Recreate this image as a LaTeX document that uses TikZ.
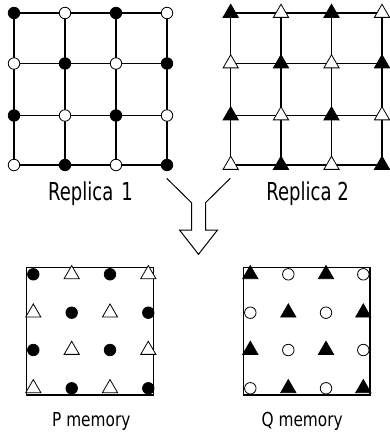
\documentclass[tikz,border=0pt]{standalone}
\usepackage{fontspec}
\usetikzlibrary{shapes.geometric}
\newfontfamily\bigfont{DejaVu Sans}[FakeStretch=0.73]
\newfontfamily\smallfont{DejaVu Sans}[FakeStretch=0.8]
\tikzset{
  gridline/.style={line width=1.3pt},
  mk/.style={draw=black, line width=0.8pt, inner sep=0pt},
  fc/.style={mk, circle, fill=black, minimum size=11.5pt},
  oc/.style={mk, circle, fill=white, minimum size=11.5pt},
  ft/.style={mk, regular polygon, regular polygon sides=3, fill=black, minimum size=17.5pt},
  ot/.style={mk, regular polygon, regular polygon sides=3, fill=white, minimum size=17.5pt},
  membox/.style={draw, line width=1.2pt, inner sep=0pt, minimum width=126.6pt, minimum height=127.3pt},
  biglabel/.style={font=\bigfont\fontsize{24.7}{24.7}\selectfont, inner sep=0pt, anchor=base},
  smalllabel/.style={font=\smallfont\fontsize{19.2}{19.2}\selectfont, inner sep=0pt, anchor=base},
  arrowline/.style={line width=1pt, line join=miter},
}
\begin{document}
\begin{tikzpicture}[x=1pt,y=-1pt]
\useasboundingbox (0,0) rectangle (389,433);
% grid coordinates
\foreach \i/\y in {1/13,2/63.5,3/115.5,4/165}{
  \foreach \j/\x in {1/14,2/65,3/116,4/167}{
    \coordinate (a-\i-\j) at (\x,\y);
  }
  \foreach \j/\x in {1/230.7,2/281,3/331.5,4/382}{
    \coordinate (b-\i-\j) at (\x,\y);
  }
}
% grid lines
\foreach \k in {1,...,4}{
  \draw[gridline] (a-\k-1) -- (a-\k-4);
  \draw[gridline] (a-1-\k) -- (a-4-\k);
  \draw[gridline] (b-\k-1) -- (b-\k-4);
  \draw[gridline] (b-1-\k) -- (b-4-\k);
}
% markers on grids
\foreach \i in {1,...,4}{
  \foreach \j in {1,...,4}{
    \pgfmathtruncatemacro\pp{mod(\i+\j,2)}
    \ifnum\pp=0
      \node[fc] (ma-\i-\j) at (a-\i-\j) {};
      \node[ft] (mb-\i-\j) at (b-\i-\j) {};
    \else
      \node[oc] (ma-\i-\j) at (a-\i-\j) {};
      \node[ot] (mb-\i-\j) at (b-\i-\j) {};
    \fi
  }
}
\node[biglabel] (lab1) at (90.5,200) {Replica\hspace{0.1em} 1};
\node[biglabel] (lab2) at (307.5,200) {Replica 2};
% big arrow
\draw[arrowline] (166.7,178.3) -- (191.5,202.7) -- (191.5,230) -- (179.5,230)
  -- (198.5,254.3) -- (217.5,230) -- (205.5,230) -- (205.5,202.7) -- (230.3,178.3);
% memory boxes
\node[membox] (pbox) at (90,331.35) {};
\node[membox] (qbox) at (306.65,331.35) {};
\foreach \i/\y in {1/274.3,2/312.7,3/350,4/388.3}{
  \foreach \j/\x in {1/33.3,2/71.7,3/110,4/148.3}{
    \coordinate (p-\i-\j) at (\x,\y);
  }
  \foreach \j/\x in {1/250.3,2/288.3,3/326,4/363.3}{
    \coordinate (q-\i-\j) at (\x,\y);
  }
}
\foreach \i in {1,...,4}{
  \foreach \j in {1,...,4}{
    \pgfmathtruncatemacro\pp{mod(\i+\j,2)}
    \ifnum\pp=0
      \node[fc] (mp-\i-\j) at (p-\i-\j) {};
      \node[ft] (mq-\i-\j) at (q-\i-\j) {};
    \else
      \node[ot] (mp-\i-\j) at (p-\i-\j) {};
      \node[oc] (mq-\i-\j) at (q-\i-\j) {};
    \fi
  }
}
\node[smalllabel] (labp) at (91.3,426) {P memory};
\node[smalllabel] (labq) at (302.2,426) {Q memory};
\end{tikzpicture}
\end{document}
